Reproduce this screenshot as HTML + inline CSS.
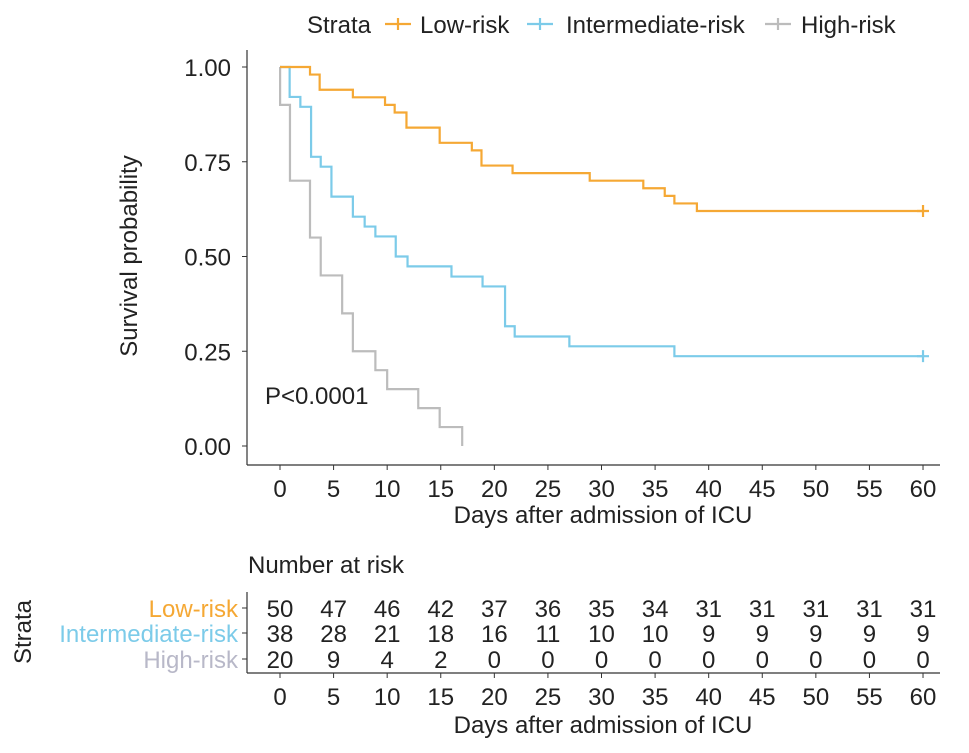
<!DOCTYPE html>
<html><head><meta charset="utf-8"><style>
body{margin:0;background:#fff}
svg{display:block;font-family:"Liberation Sans",sans-serif}
</style></head><body>
<svg id="c" width="969" height="753" viewBox="0 0 969 753"></svg>
<script>
const lowT=[0,2.8,3.7,6.8,9.8,10.7,11.8,14.9,17.9,18.8,21.7,28.9,33.9,35.9,36.8,38.9,60];
const lowS=[1,0.98,0.94,0.92,0.90,0.88,0.84,0.80,0.78,0.74,0.72,0.70,0.68,0.66,0.64,0.62,0.62];
const midT=[0,0.9,1.9,2.9,3.8,4.8,6.8,7.9,8.9,10.8,11.9,16,18.9,21,21.9,27,36.8,60];
const midS=[1,0.921,0.895,0.763,0.737,0.658,0.605,0.579,0.553,0.5,0.474,0.447,0.421,0.316,0.289,0.263,0.237,0.237];
const highT=[0,0.01,0.93,2.8,3.8,5.8,6.8,8.9,10,12.9,14.9,17];
const highS=[1,0.9,0.7,0.55,0.45,0.35,0.25,0.2,0.15,0.1,0.05,0];
const xTicks=[0,5,10,15,20,25,30,35,40,45,50,55,60];
const yTicks=[0,0.25,0.5,0.75,1.0];
const riskLow=[50,47,46,42,37,36,35,34,31,31,31,31,31];
const riskMid=[38,28,21,18,16,11,10,10,9,9,9,9,9];
const riskHigh=[20,9,4,2,0,0,0,0,0,0,0,0,0];
const C={low:"#f5a834",mid:"#7ccbe9",high:"#bcbcbc"};
const NS="http://www.w3.org/2000/svg";
const svg=document.getElementById('c');
const X=t=>280+t*10.717;
const Y=s=>446-s*379;
const FS=24;
function el(tag,a,txt){const e=document.createElementNS(NS,tag);for(const k in a)e.setAttribute(k,a[k]);if(txt!==undefined)e.textContent=txt;svg.appendChild(e);return e;}
function txt(x,y,s,o){return el('text',Object.assign({x:x,y:y,'font-size':FS,fill:'#222'},o||{}),s);}
let e=el('line',{x1:247,y1:50,x2:247,y2:465,stroke:'#333','stroke-width':1.2});

e=el('line',{x1:247,y1:465,x2:940,y2:465,stroke:'#333','stroke-width':1.2});

yTicks.forEach(v=>{el('line',{x1:242,x2:247,y1:Y(v),y2:Y(v),stroke:'#333'});
 e=txt(231,Y(v)+9,v.toFixed(2),{'text-anchor':'end'});
 });
xTicks.forEach(v=>{el('line',{x1:X(v),x2:X(v),y1:465,y2:470,stroke:'#333'});
 e=txt(X(v),497,String(v),{'text-anchor':'middle'});
 });
e=txt(603,523,'Days after admission of ICU',{'text-anchor':'middle'});

e=txt(0,0,'Survival probability',{'text-anchor':'middle',transform:'translate(137,256) rotate(-90)'});

e=txt(265,404,'P<0.0001');

function step(T,S,col,name,cens){let d='M'+X(T[0])+' '+Y(S[0]);
 for(let i=1;i<T.length;i++){d+=' H'+X(T[i])+' V'+Y(S[i]);}
 const p=el('path',{d:d,fill:'none',stroke:col,'stroke-width':2.2});
 
 if(cens){const x=X(T[T.length-1]),y=Y(S[S.length-1]);
  el('path',{d:`M${x-6} ${y}H${x+6}M${x} ${y-6}V${y+6}`,stroke:col,'stroke-width':2.2});}}
step(highT,highS,C.high,'high-risk-curve',false);
step(midT,midS,C.mid,'intermediate-risk-curve',true);
step(lowT,lowS,C.low,'low-risk-curve',true);
e=txt(307,33,'Strata');
[[385,420,'Low-risk',C.low],[527,566,'Intermediate-risk',C.mid],[765,801,'High-risk',C.high]].forEach(l=>{
 el('path',{d:`M${l[0]} 24H${l[0]+26}M${l[0]+13} 18V30`,stroke:l[3],'stroke-width':2.2});
 e=txt(l[1],33,l[2]);});
e=txt(248,573,'Number at risk');
el('line',{x1:247,y1:592,x2:247,y2:673,stroke:'#333','stroke-width':1.2});
el('line',{x1:247,y1:673,x2:940,y2:673,stroke:'#333','stroke-width':1.2});
[[608,'Low-risk',C.low,riskLow],[633,'Intermediate-risk',C.mid,riskMid],[659,'High-risk','#b8b8c8',riskHigh]].forEach(r=>{
 el('line',{x1:242,x2:247,y1:r[0],y2:r[0],stroke:'#333'});
 e=txt(238,r[0]+9,r[1],{'text-anchor':'end',fill:r[2]});
 
 r[3].forEach((v,i)=>{e=txt(X(xTicks[i]),r[0]+9,String(v),{'text-anchor':'middle'});
  });});
xTicks.forEach(v=>{el('line',{x1:X(v),x2:X(v),y1:673,y2:678,stroke:'#333'});
 e=txt(X(v),705,String(v),{'text-anchor':'middle'});
 });
e=txt(603,733,'Days after admission of ICU',{'text-anchor':'middle'});

e=txt(0,0,'Strata',{'text-anchor':'middle',transform:'translate(31,632) rotate(-90)'});

</script>
</body></html>
